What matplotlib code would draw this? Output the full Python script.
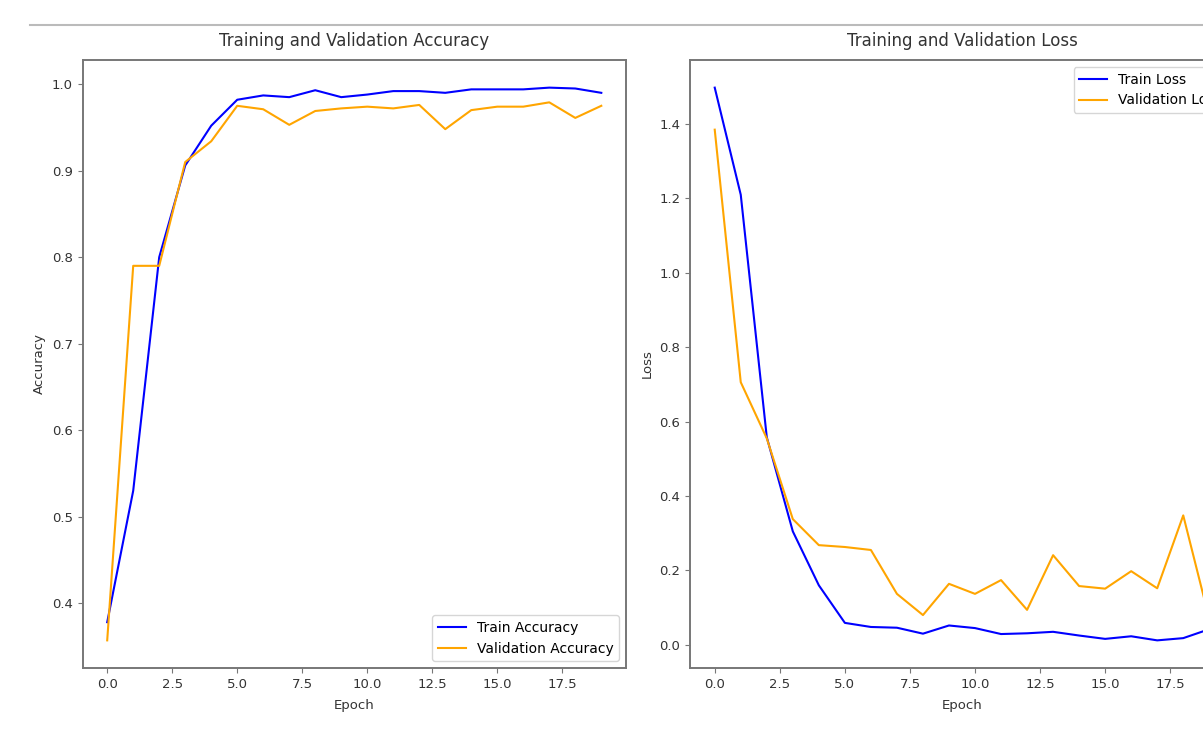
import matplotlib
matplotlib.use('Agg')
import matplotlib.pyplot as plt
from matplotlib.lines import Line2D

# values
epochs = list(range(20))

train_acc = [0.378, 0.530, 0.800, 0.906, 0.952, 0.982, 0.987, 0.985, 0.993, 0.985,
             0.988, 0.992, 0.992, 0.990, 0.994, 0.994, 0.994, 0.996, 0.995, 0.990]
val_acc = [0.357, 0.790, 0.790, 0.910, 0.934, 0.975, 0.971, 0.953, 0.969, 0.972,
           0.974, 0.972, 0.976, 0.948, 0.970, 0.974, 0.974, 0.979, 0.961, 0.975]

train_loss = [1.498, 1.210, 0.558, 0.305, 0.160, 0.059, 0.048, 0.046, 0.030, 0.052,
              0.045, 0.029, 0.031, 0.035, 0.025, 0.016, 0.023, 0.012, 0.018, 0.042]
val_loss = [1.385, 0.706, 0.555, 0.338, 0.268, 0.263, 0.255, 0.137, 0.080, 0.164,
            0.137, 0.174, 0.094, 0.241, 0.158, 0.151, 0.198, 0.152, 0.348, 0.070]

W, H = 1203, 730
fig = plt.figure(figsize=(W / 100, H / 100), dpi=100)

frame_col = '#777777'
text_col = '#333333'


def style(ax):
    for s in ax.spines.values():
        s.set_color(frame_col)
        s.set_linewidth(1.4)
    ax.tick_params(colors=text_col, labelsize=9.5, color=frame_col)


# left panel: accuracy
ax1 = fig.add_axes([82.5 / W, 62 / H, 543.5 / W, 608 / H])
ax1.plot(epochs, train_acc, color='blue', lw=1.5, label='Train Accuracy')
ax1.plot(epochs, val_acc, color='orange', lw=1.5, label='Validation Accuracy')
ax1.set_title('Training and Validation Accuracy', fontsize=12, color=text_col, pad=10)
ax1.set_xlabel('Epoch', fontsize=9.5, color=text_col, labelpad=6)
ax1.set_ylabel('Accuracy', fontsize=9.5, color=text_col)
ax1.legend(loc='lower right', fontsize=10)
style(ax1)

# right panel: loss (runs past the right edge, as in the screenshot)
ax2 = fig.add_axes([690 / W, 62 / H, 544 / W, 608 / H])
ax2.plot(epochs, train_loss, color='blue', lw=1.5, label='Train Loss')
ax2.plot(epochs, val_loss, color='orange', lw=1.5, label='Validation Loss')
ax2.set_title('Training and Validation Loss', fontsize=12, color=text_col, pad=10)
ax2.set_xlabel('Epoch', fontsize=9.5, color=text_col, labelpad=6)
ax2.set_ylabel('Loss', fontsize=9.5, color=text_col)
ax2.legend(loc='upper right', fontsize=10)
style(ax2)

# thin grey rule across the top of the screenshot
fig.add_artist(Line2D([30 / W, 1], [1 - 25 / H, 1 - 25 / H],
                      transform=fig.transFigure, color='#bbbbbb', lw=1.5))

fig.savefig('out.png', dpi=100)
